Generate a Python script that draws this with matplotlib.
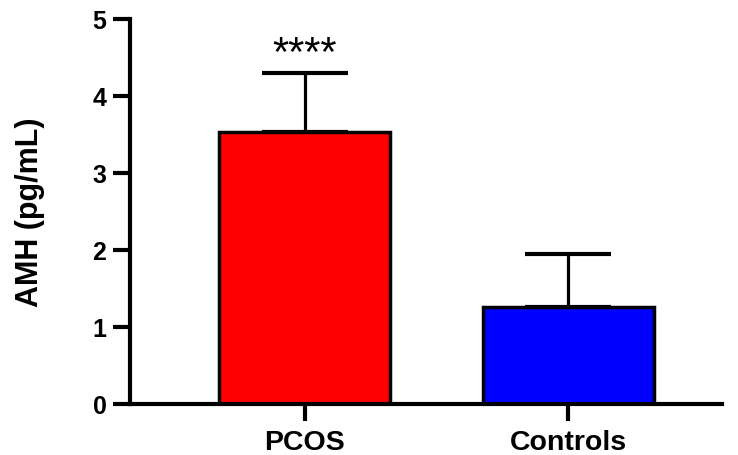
import matplotlib
matplotlib.use("Agg")
import matplotlib.pyplot as plt

categories = ["PCOS", "Controls"]
means = [3.53, 1.26]
sd_upper = [0.77, 0.69]
colors = ["#ff0000", "#0000ff"]
y_ticks = [0, 1, 2, 3, 4, 5]
annotation = "****"

plt.rcParams['font.family'] = ['Liberation Sans', 'DejaVu Sans']

fig = plt.figure(figsize=(7.38, 4.56), dpi=100)
ax = fig.add_axes([130/738, 51/456, (722-130)/738, (405-20)/456])

x = list(range(len(categories)))
ax.errorbar(x, means, yerr=[[0]*len(means), sd_upper], fmt='none',
            ecolor='black', elinewidth=2.3, capsize=31, capthick=3, zorder=1)
ax.bar(x, means, width=0.65, color=colors, edgecolor='black', linewidth=2.5, zorder=2)

ax.text(x[0], means[0] + sd_upper[0] + 0.1, annotation, ha='center', va='baseline',
        fontsize=30, color='black')

ax.set_xlim(-0.665, 1.585)
ax.set_ylim(0, 5)
ax.set_yticks(y_ticks)
ax.set_xticks(x)
ax.set_xticklabels(categories)
for s in ['top', 'right']:
    ax.spines[s].set_visible(False)
for s in ['left', 'bottom']:
    ax.spines[s].set_linewidth(3)
ax.tick_params(axis='both', direction='out', length=12, width=3)
ax.tick_params(axis='y', labelsize=18, pad=5)
ax.tick_params(axis='x', labelsize=20.5, pad=6)
for lab in ax.get_xticklabels() + ax.get_yticklabels():
    lab.set_fontweight('bold')
ax.set_ylabel("AMH (pg/mL)", fontsize=22, fontweight='bold', labelpad=34)

fig.savefig("out.png", dpi=100)
